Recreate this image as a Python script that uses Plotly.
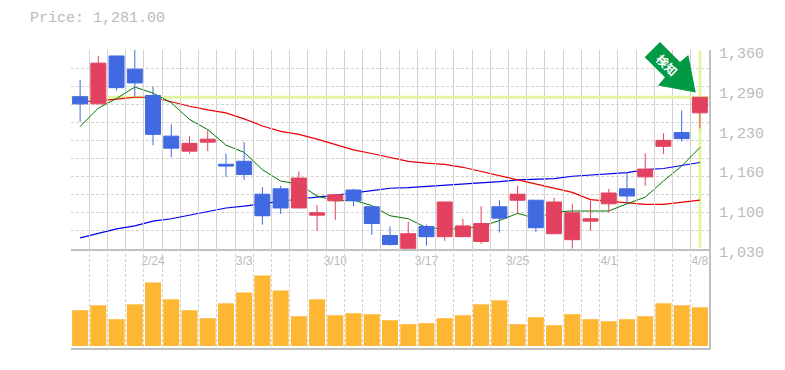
import plotly.graph_objects as go

dates = ["2/18","2/19","2/20","2/21","2/24","2/25","2/26","2/27","2/28","3/3","3/4","3/5","3/6","3/7","3/10","3/11","3/12","3/13","3/14","3/17","3/18","3/19","3/21","3/24","3/25","3/26","3/27","3/28","3/31","4/1","4/2","4/3","4/4","4/7","4/8"]
opens = [1282,1270,1350,1328,1284,1216,1191,1206,1169,1174,1119,1128,1096,1084,1108,1126,1098,1050,1028,1065,1048,1048,1040,1098,1109,1109,1053,1043,1074,1103,1128,1148,1199,1222,1255]
highs = [1310,1350,1350,1360,1299,1236,1216,1227,1187,1206,1131,1133,1157,1101,1118,1128,1098,1065,1073,1068,1106,1078,1099,1109,1133,1109,1113,1103,1108,1128,1156,1187,1221,1259,1281]
lows = [1240,1270,1292,1282,1201,1181,1187,1191,1148,1143,1068,1086,1096,1058,1076,1099,1051,1033,1028,1033,1041,1048,1036,1055,1088,1056,1053,1028,1058,1088,1103,1133,1186,1207,1229]
closes = [1270,1338,1297,1305,1219,1196,1204,1211,1166,1152,1083,1096,1146,1088,1118,1108,1070,1035,1053,1048,1106,1066,1070,1079,1119,1063,1106,1088,1078,1121,1116,1161,1209,1212,1281]
ma_short = [1232,1263,1279,1298,1288,1272,1244,1227,1201,1189,1160,1141,1136,1116,1108,1109,1100,1083,1078,1063,1061,1061,1065,1075,1087,1079,1089,1091,1091,1091,1103,1114,1141,1166,1197]
ma_mid = [1274,1275,1278,1281,1281,1273,1266,1260,1255,1245,1233,1224,1219,1211,1202,1193,1187,1180,1174,1171,1169,1164,1157,1151,1144,1136,1129,1122,1110,1107,1104,1102,1102,1106,1109]
ma_long = [1046,1053,1061,1066,1074,1078,1084,1091,1096,1099,1103,1108,1111,1114,1117,1121,1125,1129,1130,1132,1133,1135,1137,1140,1143,1144,1145,1149,1151,1154,1155,1160,1162,1167,1172]
volumes = [36,41,27,42,64,47,36,28,43,54,71,56,30,47,31,33,32,26,22,23,28,31,42,46,22,29,21,32,27,25,27,30,43,41,39]
x_label_dates = ["2/24","3/3","3/10","3/17","3/25","4/1","4/8"]
price_labels = ["1,360","1,290","1,230","1,160","1,100","1,030"]
price_label_pos = [1360,1293.6,1227.2,1160.8,1094.4,1028]
last_price = 1281
title = "Price: 1,281.00"
badge = "検知"

RED, BLUE, GREY, TXT = "#E2425F", "#4169E1", "#C0C0C0", "#BBBBBB"
GRID, HILITE = "#D2D2D2", "#E3F5A3"
xs = list(range(len(dates)))
xr = [-0.5, len(dates) - 0.5]
yr = [1028, 1360]
volr = [-2, 98]

fig = go.Figure()
# highlights and moving averages, drawn under the candles
fig.add_trace(go.Scatter(x=xr, y=[last_price, last_price], mode="lines", line=dict(color=HILITE, width=3), xaxis="x", yaxis="y"))
fig.add_trace(go.Scatter(x=[xs[-1], xs[-1]], y=[1358, 1030], mode="lines", line=dict(color=HILITE, width=3), xaxis="x", yaxis="y"))
fig.add_trace(go.Scatter(x=xs, y=ma_long, mode="lines", line=dict(color="#0000EE", width=1.2), xaxis="x", yaxis="y"))
fig.add_trace(go.Scatter(x=xs, y=ma_mid, mode="lines", line=dict(color="#EE0000", width=1.2), xaxis="x", yaxis="y"))
fig.add_trace(go.Scatter(x=xs, y=ma_short, mode="lines", line=dict(color="#007700", width=1), xaxis="x", yaxis="y"))
fig.add_trace(go.Bar(x=xs, y=volumes, marker=dict(color="#FDB733", line=dict(width=0)), xaxis="x", yaxis="y2"))
fig.add_trace(go.Candlestick(
    x=xs, open=opens, high=highs, low=lows, close=closes, whiskerwidth=0,
    increasing=dict(line=dict(color=RED, width=1), fillcolor=RED),
    decreasing=dict(line=dict(color=BLUE, width=1), fillcolor=BLUE),
    xaxis="x3", yaxis="y4"))
# invisible carrier so the label axis for prices is laid out
fig.add_trace(go.Scatter(x=[xs[0]], y=[yr[1]], mode="markers", marker=dict(opacity=0), xaxis="x", yaxis="y3"))

arrow = "M 660 42 L 644.7 57.3 L 665 77.5 L 658 85.7 L 695.7 92.7 L 688.3 55 L 680 62 Z"
fig.update_layout(
    width=777, height=362, autosize=False,
    margin=dict(l=63, r=76, t=42, b=20),
    paper_bgcolor="white", plot_bgcolor="rgba(0,0,0,0)",
    showlegend=False, hovermode=False,
    bargap=0.12, boxgap=0.18, boxgroupgap=0,
    font=dict(family="Liberation Mono", color=TXT),
    xaxis=dict(domain=[0, 1], range=xr, anchor="y2", tickmode="linear", tick0=-0.5, dtick=1,
               showticklabels=False, ticks="", showgrid=True, gridcolor=GRID, griddash="3px,2px", gridwidth=1,
               showline=True, linecolor=GREY, linewidth=1.5, zeroline=False),
    xaxis3=dict(range=xr, overlaying="x", anchor="y", side="bottom", tickmode="array",
                tickvals=[dates.index(d) for d in x_label_dates], ticktext=x_label_dates,
                tickfont=dict(family="Liberation Sans", size=12, color=TXT), ticks="", ticklen=0,
                showgrid=False, zeroline=False, showline=True, linecolor=GREY, linewidth=1.5,
                rangeslider=dict(visible=False)),
    yaxis=dict(domain=[1/3, 1], range=yr, anchor="x", side="right", tickmode="linear", tick0=1360, dtick=30.18,
               showticklabels=False, ticks="", showgrid=True, gridcolor=GRID, griddash="3px,2px", gridwidth=1,
               showline=True, linecolor=GREY, linewidth=1.5, zeroline=False),
    yaxis2=dict(domain=[0, 1/3], range=volr, anchor="x", side="right", showticklabels=False, ticks="",
                showgrid=False, showline=True, linecolor=GREY, linewidth=1.5, zeroline=False),
    yaxis3=dict(domain=[1/3 - 0.01, 0.99], range=yr, anchor="x", side="right", tickmode="array",
                tickvals=price_label_pos, ticktext=price_labels, ticks="", ticklabelstandoff=9,
                tickfont=dict(family="Liberation Mono", size=15, color=TXT),
                showgrid=False, showline=False, zeroline=False),
    yaxis4=dict(range=yr, overlaying="y", anchor="x3", side="right", showticklabels=False, ticks="",
                showgrid=False, showline=False, zeroline=False),
    shapes=[dict(type="path", xref="paper", yref="paper", layer="above", line=dict(width=0), fillcolor="#009944",
                 path=" ".join(
                     (f"{(float(t)-71)/638:.4f}" if i % 3 == 1 else f"{(350-float(t))/300:.4f}") if i % 3 else t
                     for i, t in enumerate(arrow.replace(" Z", "").split())) + " Z")],
    annotations=[
        dict(text=title, xref="paper", yref="paper", x=(28-71)/638, y=(350-18)/300, xanchor="left", yanchor="middle",
             showarrow=False, font=dict(family="Liberation Mono", size=15, color=TXT)),
        dict(text="<b>" + badge + "</b>", xref="paper", yref="paper", x=(667-71)/638, y=(350-65)/300, xanchor="center", yanchor="middle",
             showarrow=False, textangle=45, font=dict(family="Noto Sans CJK JP", size=12, color="white")),
    ],
)
fig.write_html("out.html")
